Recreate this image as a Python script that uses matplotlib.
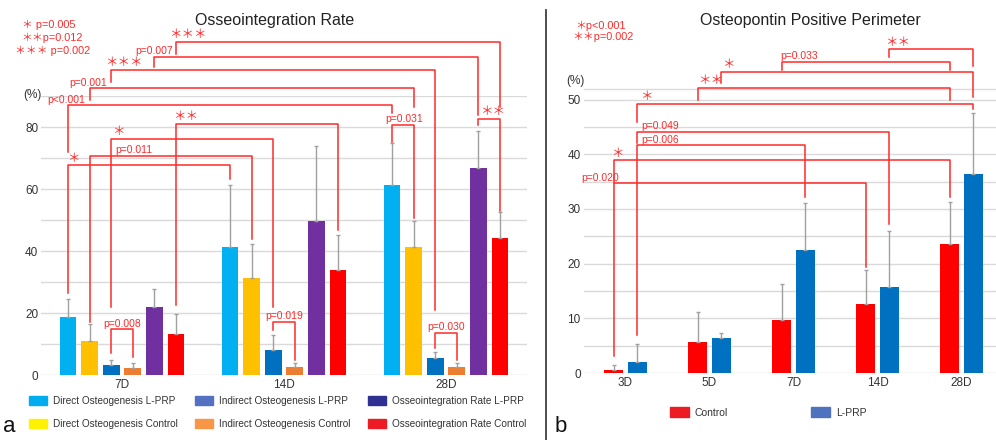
import numpy as np
import matplotlib
matplotlib.use('Agg')
import matplotlib.pyplot as plt
from matplotlib.patches import Patch

plt.rcParams['font.family'] = ['Liberation Sans', 'Noto Sans CJK JP']

# ---- data: panel a (Osseointegration Rate) ----
days_a = ['7D', '14D', '28D']
direct_lprp = [18.6, 41.4, 61.2]
direct_lprp_sd = [5.8, 19.8, 13.7]
direct_ctrl = [10.9, 31.2, 41.3]
direct_ctrl_sd = [5.6, 11.2, 8.4]
indirect_lprp = [3.1, 8.2, 5.5]
indirect_lprp_sd = [1.6, 4.7, 2.0]
indirect_ctrl = [2.2, 2.6, 2.6]
indirect_ctrl_sd = [1.7, 1.2, 1.4]
osseo_lprp = [21.8, 49.6, 66.8]
osseo_lprp_sd = [6.0, 24.2, 12.0]
osseo_ctrl = [13.1, 33.9, 44.1]
osseo_ctrl_sd = [6.5, 11.4, 8.5]

# ---- data: panel b (Osteopontin Positive Perimeter) ----
days_b = ['3D', '5D', '7D', '14D', '28D']
opn_ctrl = [0.55, 5.6, 9.7, 12.6, 23.5]
opn_ctrl_sd = [0.95, 5.6, 6.6, 6.3, 7.8]
opn_lprp = [2.1, 6.4, 22.4, 15.8, 36.3]
opn_lprp_sd = [3.2, 0.9, 8.6, 10.1, 11.2]

# significance brackets: (group1, bar1, group2, bar2, top, left end, right end, label, label shift)
brackets_a = [
    (0, 0, 1, 0, 67.6, 26.5, 63.3, '＊', 0.03),
    (0, 1, 1, 1, 70.6, 17.0, 43.8, 'p=0.011', 0.276),
    (0, 2, 1, 2, 76.2, 21.8, 21.8, '＊', 0.045),
    (0, 5, 1, 5, 81.0, 22.6, 46.8, '＊＊', 0.056),
    (0, 0, 2, 0, 87.0, 72.0, 84.4, 'p<0.001', -0.01),
    (0, 1, 2, 1, 92.5, 88.7, 86.5, 'p=0.001', -0.01),
    (0, 2, 2, 2, 98.5, 94.6, 21.0, '＊＊＊', 0.08),
    (0, 4, 2, 4, 102.7, 99.5, 83.9, 'p=0.007', 0.0),
    (0, 5, 2, 5, 107.5, 103.7, 86.5, '＊＊＊', 0.074),
    (2, 4, 2, 5, 82.6, 80.6, 53.0, '＊＊', 0.09),
    (2, 0, 2, 1, 80.6, 75.3, 50.5, 'p=0.031', 0.074),
    (0, 2, 0, 3, 14.7, 7.2, 5.9, 'p=0.008', 0.067),
    (1, 2, 1, 3, 17.2, 14.5, 4.8, 'p=0.019', 0.067),
    (2, 2, 2, 3, 13.6, 8.6, 4.8, 'p=0.030', 0.067),
]
brackets_b = [
    (0, 0, 3, 0, 34.7, 3.1, 19.4, 'p=0.020', -0.155),
    (0, 0, 4, 0, 38.9, 34.7, 32.2, '＊', 0.04),
    (0, 1, 2, 1, 41.6, 6.9, 32.2, 'p=0.006', 0.27),
    (0, 1, 3, 1, 44.1, 42.0, 27.2, 'p=0.049', 0.27),
    (0, 1, 4, 1, 49.2, 45.9, 48.2, '＊', 0.1),
    (1, 0, 4, 0, 52.2, 50.0, 50.0, '＊＊', 0.16),
    (1, 1, 4, 1, 55.0, 52.95, 50.5, '＊', 0.08),
    (2, 0, 4, 0, 56.9, 55.4, 55.4, 'p=0.033', 0.21),
    (3, 1, 4, 1, 59.2, 57.7, 56.1, '＊＊', 0.1),
]

RED = '#FF2A2A'
GRID = '#DADADA'
ERR = '#A0A0A0'

fig = plt.figure(figsize=(9.96, 4.4), dpi=100)

# ---------------- panel a ----------------
ax = fig.add_axes([41 / 996, 65 / 440, 486 / 996, 279 / 440])
series_a = [
    (direct_lprp, direct_lprp_sd, '#00B0F0'),
    (direct_ctrl, direct_ctrl_sd, '#FFC000'),
    (indirect_lprp, indirect_lprp_sd, '#0070C0'),
    (indirect_ctrl, indirect_ctrl_sd, '#ED7D31'),
    (osseo_lprp, osseo_lprp_sd, '#7030A0'),
    (osseo_ctrl, osseo_ctrl_sd, '#FF0000'),
]
step_a = 0.1333
xa = np.arange(len(days_a))
for i, (vals, sd, col) in enumerate(series_a):
    pos = xa + (i - 2.5) * step_a
    ax.bar(pos, vals, width=0.103, color=col, zorder=2)
    ax.errorbar(pos, vals, yerr=[np.zeros(len(vals)), sd], fmt='none',
                ecolor=ERR, elinewidth=1, capsize=1.5, capthick=1, zorder=3)

ax.set_xlim(-0.5, 2.5)
ax.set_ylim(0, 90)
ax.set_yticks(range(0, 91, 10))
ax.set_yticklabels([str(v) if v % 20 == 0 and v <= 80 else '' for v in range(0, 91, 10)])
ax.set_xticks(xa)
ax.set_xticklabels(days_a)
ax.tick_params(length=0, labelsize=8.5, colors='#333333')
ax.tick_params(axis='y', pad=2)
ax.tick_params(axis='x', pad=3)
ax.yaxis.grid(True, color=GRID, lw=1, zorder=0)
ax.set_axisbelow(True)
for s in ax.spines.values():
    s.set_visible(False)


def draw_brackets(ax, brackets, xpos, fs=7.5):
    for g1, b1, g2, b2, top, lb, rb, label, dx in brackets:
        x1 = xpos(g1, b1)
        x2 = xpos(g2, b2)
        ax.plot([x1, x1, x2, x2], [lb, top, top, rb], color=RED, lw=1.1,
                clip_on=False, zorder=4)
        size = 9 if label.startswith('＊') else fs
        ax.annotate(label, (x1 + dx, top), xytext=(0, 0.5), textcoords='offset points',
                    ha='center', va='bottom', color=RED, fontsize=size,
                    annotation_clip=False)


draw_brackets(ax, brackets_a, lambda g, b: g + (b - 2.5) * step_a)

handles_a = [
    Patch(color='#00AEEF', label='Direct Osteogenesis L-PRP'),
    Patch(color='#FFF200', label='Direct Osteogenesis Control'),
    Patch(color='#5470C0', label='Indirect Osteogenesis L-PRP'),
    Patch(color='#F79646', label='Indirect Osteogenesis Control'),
    Patch(color='#2E3192', label='Osseointegration Rate L-PRP'),
    Patch(color='#ED1C24', label='Osseointegration Rate Control'),
]
fig.legend(handles=handles_a, ncol=3, loc='upper left',
           bbox_to_anchor=(20 / 996, 1 - 387 / 440), frameon=False,
           fontsize=7.2, handlelength=1.8, handleheight=1.0,
           handletextpad=0.6, columnspacing=1.75, labelspacing=1.25,
           labelcolor='#333333')

fig.text(275 / 996, 1 - 20 / 440, 'Osseointegration Rate', ha='center', va='center',
         fontsize=11.5, color='#222222')
fig.text(32 / 996, 1 - 95 / 440, '(%)', ha='center', va='center', fontsize=8.5, color='#333333')
fig.text(22 / 996, 1 - 25 / 440, '＊ p=0.005', color=RED, fontsize=7.8, va='center')
fig.text(21 / 996, 1 - 37.7 / 440, '＊＊p=0.012', color=RED, fontsize=7.8, va='center')
fig.text(15 / 996, 1 - 50.7 / 440, '＊＊＊ p=0.002', color=RED, fontsize=7.8, va='center')

# ---------------- panel b ----------------
bx = fig.add_axes([583.5 / 996, 67 / 440, 420 / 996, 284.4 / 440])
step_b = 0.2857
xb = np.arange(len(days_b))
for i, (vals, sd, col) in enumerate([(opn_ctrl, opn_ctrl_sd, '#FF0000'),
                                     (opn_lprp, opn_lprp_sd, '#0070C0')]):
    pos = xb + (i - 0.5) * step_b
    bx.bar(pos, vals, width=0.226, color=col, zorder=2)
    bx.errorbar(pos, vals, yerr=[np.zeros(len(vals)), sd], fmt='none',
                ecolor=ERR, elinewidth=1, capsize=1.5, capthick=1, zorder=3)

bx.set_xlim(-0.5, 4.5)
bx.set_ylim(0, 52)
bx.set_yticks(range(0, 51, 5))
bx.set_yticklabels([str(v) if v % 10 == 0 else '' for v in range(0, 51, 5)])
bx.set_xticks(xb)
bx.set_xticklabels(days_b)
bx.tick_params(length=0, labelsize=8.5, colors='#333333')
bx.tick_params(axis='y', pad=2)
bx.tick_params(axis='x', pad=3)
bx.yaxis.grid(True, color=GRID, lw=1, zorder=0)
bx.axhline(52, color=GRID, lw=1, zorder=0, clip_on=False)
bx.set_axisbelow(True)
for s in bx.spines.values():
    s.set_visible(False)

draw_brackets(bx, brackets_b, lambda g, b: g + (b - 0.5) * step_b)

handles_b = [Patch(color='#ED1C24', label='Control'), Patch(color='#4F72BE', label='L-PRP')]
fig.legend(handles=handles_b, ncol=2, loc='upper left',
           bbox_to_anchor=(661 / 996, 1 - 398 / 440), frameon=False,
           fontsize=7.5, handlelength=1.75, handleheight=1.0,
           handletextpad=0.6, columnspacing=8.0, labelcolor='#333333')

fig.text(810 / 996, 1 - 20 / 440, 'Osteopontin Positive Perimeter', ha='center', va='center',
         fontsize=11.5, color='#222222')
fig.text(575 / 996, 1 - 80.7 / 440, '(%)', ha='center', va='center', fontsize=8.5, color='#333333')
fig.text(575 / 996, 1 - 26 / 440, '＊p<0.001', color=RED, fontsize=7.8, va='center')
fig.text(572 / 996, 1 - 37.3 / 440, '＊＊p=0.002', color=RED, fontsize=7.8, va='center')

# divider and panel letters
fig.add_artist(plt.Line2D([546 / 996, 546 / 996], [0, 1 - 10 / 440], color='#404040', lw=1.3))
fig.text(3 / 996, 1 - 437 / 440, 'a', fontsize=16, va='bottom', color='#111111')
fig.text(555 / 996, 1 - 437 / 440, 'b', fontsize=16, va='bottom', color='#111111')

fig.savefig('out.png', dpi=100)
